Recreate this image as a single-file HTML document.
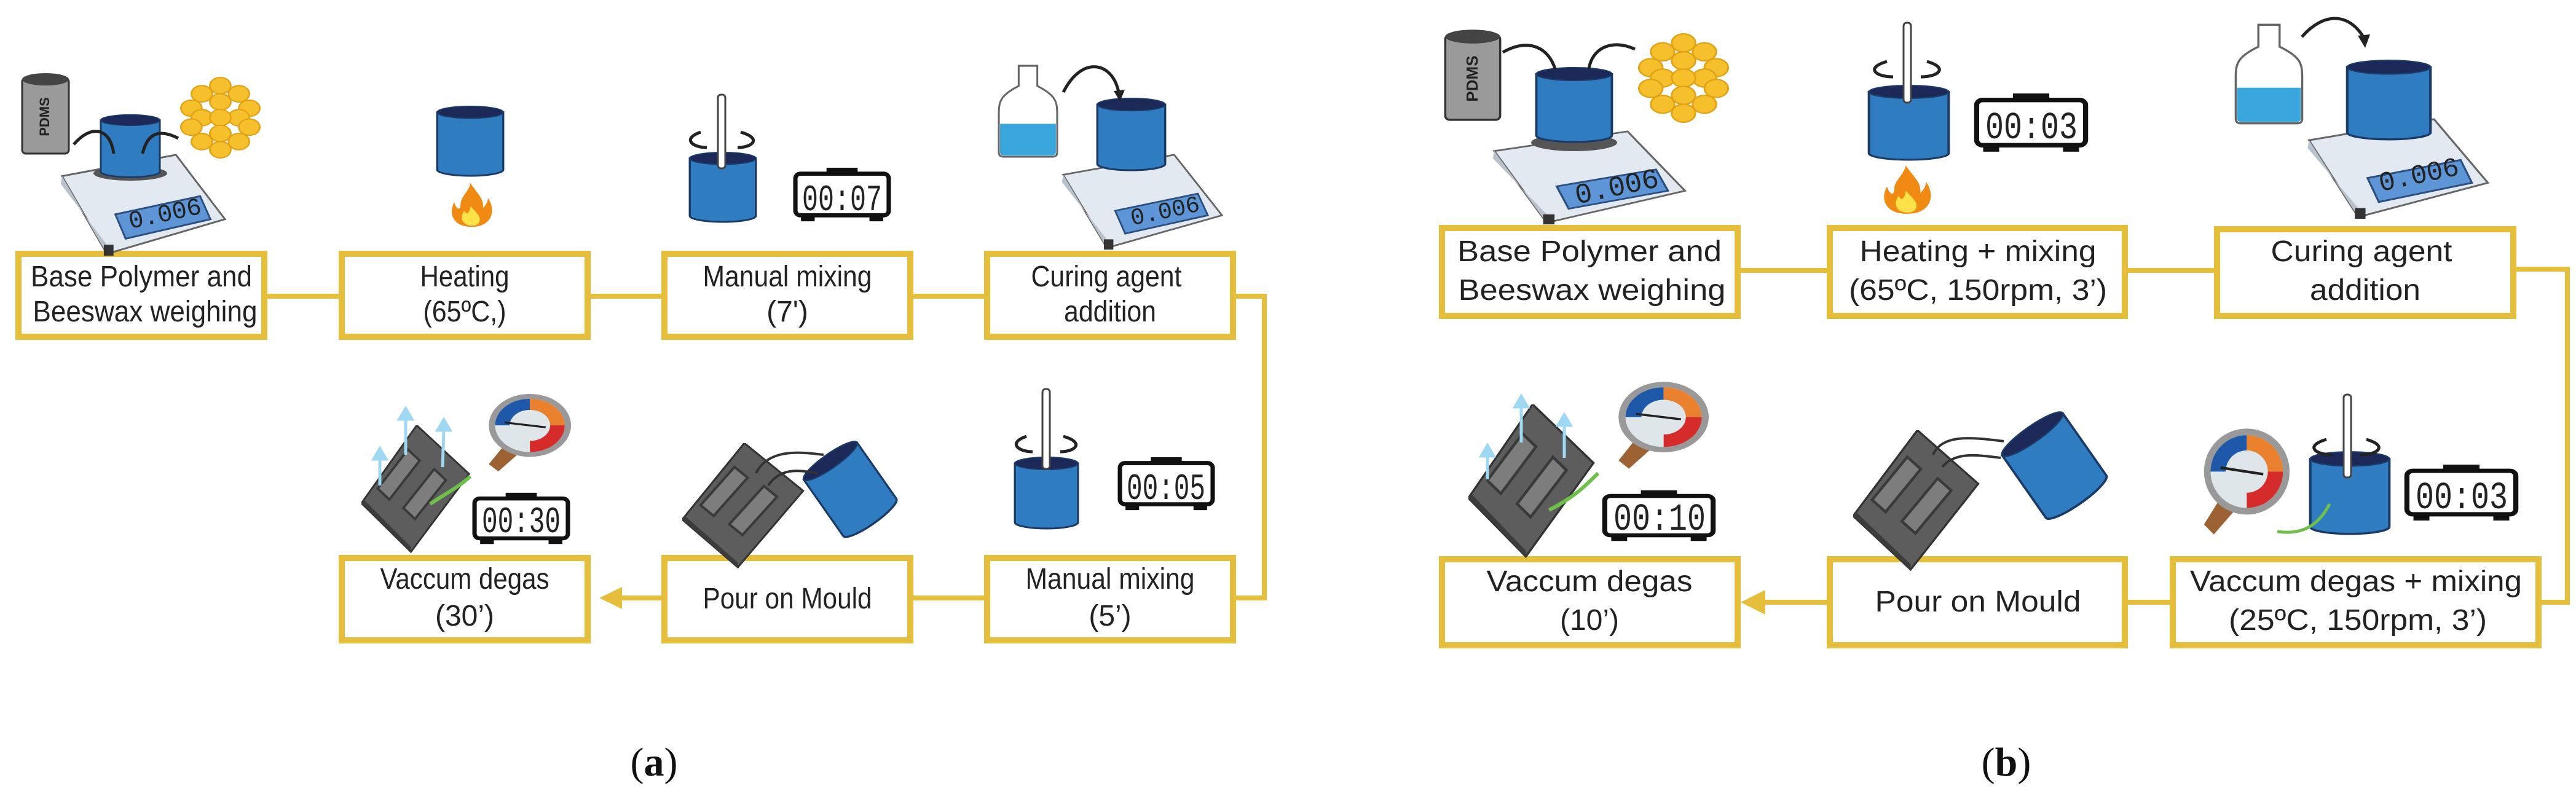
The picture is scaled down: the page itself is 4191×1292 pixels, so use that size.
<!DOCTYPE html>
<html><head><meta charset="utf-8"><style>
html,body{margin:0;padding:0;background:#fff;}
svg{display:block;}
.lbl{font-family:"Liberation Sans",sans-serif;font-size:48px;fill:#222;}
.dig{font-family:"Liberation Mono",monospace;font-weight:normal;fill:#222;}
.box{fill:#fff;stroke:#E5BE3C;stroke-width:10;}
.ln{stroke:#E5BE3C;stroke-width:8;fill:none;}
</style></head><body>
<svg width="4191" height="1292" viewBox="0 0 4191 1292" xmlns="http://www.w3.org/2000/svg">
<defs>
<symbol id="cyl" viewBox="0 0 100 120" preserveAspectRatio="none">
 <path d="M2,12 L2,108 A48,10 0 0 0 98,108 L98,12 Z" fill="#2f7cc1" stroke="#1b3a66" stroke-width="3"/>
 <ellipse cx="50" cy="12" rx="48" ry="10" fill="#1b2858" stroke="#1b3a66" stroke-width="2"/>
</symbol>
<symbol id="clock" viewBox="0 0 160 95" preserveAspectRatio="none">
 <rect x="55" y="2" width="50" height="12" fill="#111"/>
 <rect x="14" y="80" width="22" height="12" fill="#111"/>
 <rect x="124" y="80" width="22" height="12" fill="#111"/>
 <rect x="5" y="12" width="150" height="70" rx="8" fill="#fff" stroke="#111" stroke-width="7"/>
</symbol>
<symbol id="scale" viewBox="0 0 280 170" preserveAspectRatio="none">
 <path d="M7,37 L195,2 L276,108 L81,165 Z" fill="#e3e9f1" stroke="#666" stroke-width="3"/>
 <path d="M7,37 L81,165 L81,150 L5,50 Z" fill="#b8c2cc"/>
 <rect x="76" y="150" width="16" height="18" fill="#333"/>
 <path d="M95,100 L235,70 L252,108 L112,140 Z" fill="#5d95d6" stroke="#2d4f80" stroke-width="3"/>
</symbol>
<symbol id="gauge" viewBox="0 0 140 170" preserveAspectRatio="none">
 <path d="M35,110 L10,150 L25,165 L60,125 Z" fill="#9c6233"/>
 <circle cx="75" cy="70" r="65" fill="#999"/>
 <circle cx="75" cy="70" r="55" fill="#dfe6ea"/>
 <path d="M75,70 L75,15 A55,55 0 0 0 20,70 Z" fill="#1d59a8"/>
 <path d="M75,70 L75,15 A55,55 0 0 1 130,70 Z" fill="#e9812e"/>
 <path d="M75,70 L130,70 A55,55 0 0 1 75,125 Z" fill="#d52b2b"/>
 <circle cx="75" cy="70" r="32" fill="#dfe6ea"/>
 <line x1="35" y1="64" x2="100" y2="74" stroke="#222" stroke-width="4"/>
</symbol>
<symbol id="mould" viewBox="0 0 190 210" preserveAspectRatio="none">
 <polygon points="95,0 185,80 85,208 0,128" fill="#5d5d5d" stroke="#333" stroke-width="3"/>
 <polygon points="0,128 85,208 85,200 4,122" fill="#3c3c3c"/>
 <polygon points="80,40 100,58 48,122 28,104" fill="#7d7d7d" stroke="#3a3a3a" stroke-width="4"/>
 <polygon points="125,72 145,90 92,154 72,136" fill="#7d7d7d" stroke="#3a3a3a" stroke-width="4"/>
</symbol>
<symbol id="comb" viewBox="0 0 100 130" preserveAspectRatio="none">
 <g fill="#f6c02c" stroke="#e2a216" stroke-width="2">
 <circle cx="50" cy="14" r="13"/><circle cx="27" cy="27" r="13"/><circle cx="73" cy="27" r="13"/>
 <circle cx="50" cy="40" r="13"/><circle cx="14" cy="50" r="13"/><circle cx="86" cy="50" r="13"/>
 <circle cx="27" cy="65" r="13"/><circle cx="73" cy="65" r="13"/><circle cx="50" cy="65" r="13"/>
 <circle cx="14" cy="80" r="13"/><circle cx="86" cy="80" r="13"/><circle cx="50" cy="90" r="13"/>
 <circle cx="27" cy="103" r="13"/><circle cx="73" cy="103" r="13"/><circle cx="50" cy="116" r="13"/>
 </g>
</symbol>
<symbol id="flame" viewBox="0 0 80 80" preserveAspectRatio="none">
 <path d="M40,78 C10,78 2,55 12,35 C15,48 22,50 22,40 C22,25 35,18 38,2 C48,20 60,28 58,45 C64,40 66,32 66,28 C80,50 72,78 40,78 Z" fill="#f08a12"/>
 <path d="M40,76 C25,76 20,62 28,50 C32,58 36,55 38,42 C46,52 56,60 52,70 C50,74 46,76 40,76 Z" fill="#ffe14a"/>
</symbol>
<symbol id="pdms" viewBox="0 0 80 140" preserveAspectRatio="none">
 <rect x="2" y="10" width="76" height="122" rx="6" fill="#9a9a9a" stroke="#333" stroke-width="3"/>
 <ellipse cx="40" cy="12" rx="38" ry="10" fill="#444"/>
</symbol>
<symbol id="bottle" viewBox="0 0 100 150" preserveAspectRatio="none">
 <path d="M35,3 L65,3 L65,35 C95,50 97,60 97,80 L97,140 Q97,147 90,147 L10,147 Q3,147 3,140 L3,80 C3,60 5,50 35,35 Z" fill="#fff" stroke="#666" stroke-width="3"/>
 <path d="M5,95 L95,95 L95,140 Q95,145 88,145 L12,145 Q5,145 5,140 Z" fill="#3aa6de"/>
</symbol>
</defs>

<!-- ========== PANEL A ========== -->
<line class="ln" x1="431" y1="482" x2="556" y2="482"/>
<line class="ln" x1="956" y1="482" x2="1081" y2="482"/>
<line class="ln" x1="1480" y1="482" x2="1606" y2="482"/>
<polyline class="ln" points="2005,482 2057,482 2057,973 2005,973"/>
<line class="ln" x1="1606" y1="973" x2="1480" y2="973"/>
<line class="ln" x1="1081" y1="973" x2="1000" y2="973"/>
<polygon points="975,973 1012,955 1012,991" fill="#E5BE3C"/>

<rect class="box" x="30" y="413" width="400" height="135"/>
<rect class="box" x="556" y="413" width="400" height="135"/>
<rect class="box" x="1081" y="413" width="400" height="135"/>
<rect class="box" x="1606" y="413" width="400" height="135"/>
<rect class="box" x="556" y="908" width="400" height="134"/>
<rect class="box" x="1081" y="908" width="400" height="134"/>
<rect class="box" x="1606" y="908" width="400" height="134"/>

<text class="lbl" x="230" y="466" text-anchor="middle" textLength="360" lengthAdjust="spacingAndGlyphs">Base Polymer and</text>
<text class="lbl" x="236" y="523" text-anchor="middle" textLength="365" lengthAdjust="spacingAndGlyphs">Beeswax weighing</text>
<text class="lbl" x="756" y="466" text-anchor="middle" textLength="145" lengthAdjust="spacingAndGlyphs">Heating</text>
<text class="lbl" x="756" y="523" text-anchor="middle" textLength="135" lengthAdjust="spacingAndGlyphs">(65ºC,)</text>
<text class="lbl" x="1281" y="466" text-anchor="middle" textLength="275" lengthAdjust="spacingAndGlyphs">Manual mixing</text>
<text class="lbl" x="1281" y="523" text-anchor="middle">(7')</text>
<text class="lbl" x="1800" y="466" text-anchor="middle" textLength="245" lengthAdjust="spacingAndGlyphs">Curing agent</text>
<text class="lbl" x="1806" y="523" text-anchor="middle" textLength="150" lengthAdjust="spacingAndGlyphs">addition</text>
<text class="lbl" x="756" y="958" text-anchor="middle" textLength="275" lengthAdjust="spacingAndGlyphs">Vaccum degas</text>
<text class="lbl" x="756" y="1018" text-anchor="middle">(30’)</text>
<text class="lbl" x="1281" y="990" text-anchor="middle" textLength="275" lengthAdjust="spacingAndGlyphs">Pour on Mould</text>
<text class="lbl" x="1806" y="958" text-anchor="middle" textLength="275" lengthAdjust="spacingAndGlyphs">Manual mixing</text>
<text class="lbl" x="1806" y="1018" text-anchor="middle">(5’)</text>

<use href="#scale" x="94" y="250" width="276" height="168"/>
<text class="dig" x="268" y="360" font-size="40" fill="#1a2f55" text-anchor="middle" transform="rotate(-12 268 346)">0.006</text>
<use href="#pdms" x="34" y="117" width="80" height="141"/>
<text x="80" y="190" font-family="Liberation Sans" font-weight="bold" font-size="22" fill="#222" text-anchor="middle" transform="rotate(-90 80 190)">PDMS</text>
<ellipse cx="212" cy="282" rx="60" ry="12" fill="#555"/>
<use href="#cyl" x="162" y="185" width="100" height="105"/>
<use href="#comb" x="293" y="125" width="131" height="133"/>
<path d="M120,235 C150,200 180,210 185,250 M290,225 C260,210 240,215 232,250" stroke="#222" stroke-width="5" fill="none"/>
<use href="#cyl" x="709" y="171" width="112" height="117"/>
<use href="#flame" x="727" y="296" width="81" height="75"/>
<use href="#cyl" x="1120" y="246" width="112" height="117"/>
<rect x="1168" y="154" width="12" height="120" rx="5" fill="#fff" stroke="#444" stroke-width="3"/>
<path d="M1140,215 C1110,225 1125,240 1150,240 M1205,215 C1240,225 1225,240 1200,240" stroke="#222" stroke-width="5" fill="none"/>
<use href="#clock" x="1289" y="271" width="162" height="92"/>
<text class="dig" x="1370" y="342" font-size="60" text-anchor="middle" textLength="130" lengthAdjust="spacingAndGlyphs">00:07</text>
<use href="#bottle" x="1622" y="104" width="101" height="154"/>
<use href="#scale" x="1723" y="250" width="269" height="158"/>
<text class="dig" x="1895" y="355" font-size="38" fill="#1a2f55" text-anchor="middle" transform="rotate(-12 1895 341)">0.006</text>
<use href="#cyl" x="1783" y="158" width="115" height="121"/>
<path d="M1730,150 C1760,90 1810,100 1820,150" stroke="#222" stroke-width="5" fill="none"/>
<polygon points="1812,148 1830,146 1822,165" fill="#222"/>
<use href="#cyl" x="1649" y="742" width="107" height="120"/>
<rect x="1696" y="633" width="12" height="130" rx="5" fill="#fff" stroke="#444" stroke-width="3"/>
<path d="M1670,710 C1640,720 1655,735 1680,735 M1730,710 C1765,720 1750,735 1725,735" stroke="#222" stroke-width="5" fill="none"/>
<use href="#clock" x="1817" y="742" width="161" height="91"/>
<text class="dig" x="1897" y="812" font-size="60" text-anchor="middle" textLength="128" lengthAdjust="spacingAndGlyphs">00:05</text>
<use href="#mould" x="1110" y="721" width="202" height="204"/>
<g transform="rotate(-35 1383 796)"><use href="#cyl" x="1328" y="726" width="110" height="140"/></g>
<path d="M1230,770 C1250,730 1300,735 1340,740 M1250,790 C1270,760 1300,765 1330,770" stroke="#333" stroke-width="4" fill="none"/>
<use href="#mould" x="588" y="692" width="180" height="208"/>
<g stroke="#9fd8f2" stroke-width="5" fill="#9fd8f2">
<line x1="660" y1="740" x2="660" y2="680"/><polygon points="650,682 670,682 660,665"/>
<line x1="720" y1="760" x2="722" y2="700"/><polygon points="712,700 732,700 722,683"/>
<line x1="618" y1="790" x2="618" y2="745"/><polygon points="608,747 628,747 618,730"/>
</g>
<path d="M700,820 C730,800 750,790 765,775" stroke="#6fc04a" stroke-width="6" fill="none"/>
<use href="#gauge" x="785" y="637" width="144" height="134"/>
<use href="#clock" x="767" y="800" width="162" height="88"/>
<text class="dig" x="848" y="866" font-size="60" text-anchor="middle" textLength="128" lengthAdjust="spacingAndGlyphs">00:30</text>

<text x="1064" y="1262" text-anchor="middle" font-family="Liberation Serif,serif" font-size="66" fill="#111">(<tspan font-weight="bold">a</tspan>)</text>

<!-- ========== PANEL B ========== -->
<line class="ln" x1="2827" y1="440" x2="2977" y2="440"/>
<line class="ln" x1="3457" y1="440" x2="3607" y2="440"/>
<polyline class="ln" points="4089,438 4177,438 4177,980 4130,980"/>
<line class="ln" x1="3535" y1="980" x2="3457" y2="980"/>
<line class="ln" x1="2977" y1="980" x2="2860" y2="980"/>
<polygon points="2832,980 2872,960 2872,1000" fill="#E5BE3C"/>

<rect class="box" x="2346" y="371" width="481" height="143"/>
<rect class="box" x="2977" y="371" width="480" height="143"/>
<rect class="box" x="3607" y="373" width="482" height="141"/>
<rect class="box" x="2346" y="910" width="481" height="140"/>
<rect class="box" x="2977" y="910" width="480" height="140"/>
<rect class="box" x="3535" y="910" width="595" height="140"/>

<text class="lbl" x="2586" y="425" text-anchor="middle" textLength="430" lengthAdjust="spacingAndGlyphs">Base Polymer and</text>
<text class="lbl" x="2590" y="488" text-anchor="middle" textLength="435" lengthAdjust="spacingAndGlyphs">Beeswax weighing</text>
<text class="lbl" x="3218" y="425" text-anchor="middle" textLength="385" lengthAdjust="spacingAndGlyphs">Heating + mixing</text>
<text class="lbl" x="3218" y="488" text-anchor="middle" textLength="420" lengthAdjust="spacingAndGlyphs">(65ºC, 150rpm, 3’)</text>
<text class="lbl" x="3842" y="425" text-anchor="middle" textLength="295" lengthAdjust="spacingAndGlyphs">Curing agent</text>
<text class="lbl" x="3848" y="488" text-anchor="middle" textLength="180" lengthAdjust="spacingAndGlyphs">addition</text>
<text class="lbl" x="2586" y="962" text-anchor="middle" textLength="335" lengthAdjust="spacingAndGlyphs">Vaccum degas</text>
<text class="lbl" x="2586" y="1025" text-anchor="middle">(10’)</text>
<text class="lbl" x="3218" y="995" text-anchor="middle" textLength="335" lengthAdjust="spacingAndGlyphs">Pour on Mould</text>
<text class="lbl" x="3833" y="962" text-anchor="middle" textLength="540" lengthAdjust="spacingAndGlyphs">Vaccum degas + mixing</text>
<text class="lbl" x="3836" y="1025" text-anchor="middle" textLength="420" lengthAdjust="spacingAndGlyphs">(25ºC, 150rpm, 3’)</text>

<use href="#scale" x="2423" y="212" width="323" height="155"/>
<text class="dig" x="2630" y="318" font-size="46" fill="#1a2f55" text-anchor="middle" transform="rotate(-12 2630 302)">0.006</text>
<ellipse cx="2561" cy="232" rx="70" ry="14" fill="#555"/>
<use href="#pdms" x="2349" y="46" width="94" height="158"/>
<text x="2404" y="128" font-family="Liberation Sans" font-weight="bold" font-size="26" fill="#222" text-anchor="middle" transform="rotate(-90 2404 128)">PDMS</text>
<use href="#cyl" x="2497" y="108" width="128" height="125"/>
<use href="#comb" x="2665" y="54" width="148" height="146"/>
<path d="M2445,85 C2490,60 2520,80 2530,112 M2660,80 C2620,62 2590,80 2585,112" stroke="#222" stroke-width="5" fill="none"/>
<use href="#cyl" x="3038" y="137" width="135" height="125"/>
<rect x="3097" y="37" width="12" height="130" rx="5" fill="#fff" stroke="#444" stroke-width="3"/>
<path d="M3070,100 C3035,110 3050,125 3080,125 M3135,100 C3170,110 3155,125 3125,125" stroke="#222" stroke-width="5" fill="none"/>
<use href="#flame" x="3056" y="267" width="94" height="83"/>
<use href="#clock" x="3210" y="150" width="189" height="100"/>
<text class="dig" x="3305" y="225" font-size="62" text-anchor="middle" textLength="150" lengthAdjust="spacingAndGlyphs">00:03</text>
<use href="#bottle" x="3634" y="37" width="115" height="167"/>
<use href="#scale" x="3749" y="192" width="303" height="166"/>
<text class="dig" x="3935" y="298" font-size="44" fill="#1a2f55" text-anchor="middle" transform="rotate(-12 3935 283)">0.006</text>
<use href="#cyl" x="3816" y="96" width="141" height="133"/>
<path d="M3745,60 C3780,20 3820,20 3845,60" stroke="#222" stroke-width="5" fill="none"/>
<polygon points="3836,58 3856,56 3848,78" fill="#222"/>
<use href="#gauge" x="3575" y="692" width="150" height="183"/>
<use href="#cyl" x="3756" y="733" width="134" height="138"/>
<rect x="3813" y="642" width="12" height="135" rx="5" fill="#fff" stroke="#444" stroke-width="3"/>
<path d="M3785,715 C3750,725 3765,740 3795,740 M3850,715 C3885,725 3870,740 3840,740" stroke="#222" stroke-width="5" fill="none"/>
<path d="M3790,820 C3770,860 3740,870 3705,865" stroke="#6fc04a" stroke-width="5" fill="none"/>
<use href="#clock" x="3910" y="754" width="189" height="96"/>
<text class="dig" x="4005" y="827" font-size="62" text-anchor="middle" textLength="150" lengthAdjust="spacingAndGlyphs">00:03</text>
<use href="#mould" x="3015" y="700" width="209" height="229"/>
<g transform="rotate(-35 3342 758)"><use href="#cyl" x="3280" y="680" width="125" height="155"/></g>
<path d="M3145,740 C3160,705 3210,712 3260,718 M3160,760 C3180,735 3215,740 3255,745" stroke="#333" stroke-width="4" fill="none"/>
<use href="#mould" x="2389" y="658" width="209" height="250"/>
<g stroke="#9fd8f2" stroke-width="5" fill="#9fd8f2">
<line x1="2475" y1="720" x2="2475" y2="660"/><polygon points="2465,662 2485,662 2475,645"/>
<line x1="2545" y1="745" x2="2545" y2="690"/><polygon points="2535,692 2555,692 2545,675"/>
<line x1="2420" y1="780" x2="2420" y2="740"/><polygon points="2410,742 2430,742 2420,725"/>
</g>
<path d="M2520,830 C2560,810 2580,790 2600,770" stroke="#6fc04a" stroke-width="6" fill="none"/>
<use href="#gauge" x="2622" y="617" width="158" height="150"/>
<use href="#clock" x="2605" y="796" width="188" height="87"/>
<text class="dig" x="2700" y="862" font-size="62" text-anchor="middle" textLength="150" lengthAdjust="spacingAndGlyphs">00:10</text>

<text x="3264" y="1262" text-anchor="middle" font-family="Liberation Serif,serif" font-size="66" fill="#111">(<tspan font-weight="bold">b</tspan>)</text>
</svg>
</body></html>
